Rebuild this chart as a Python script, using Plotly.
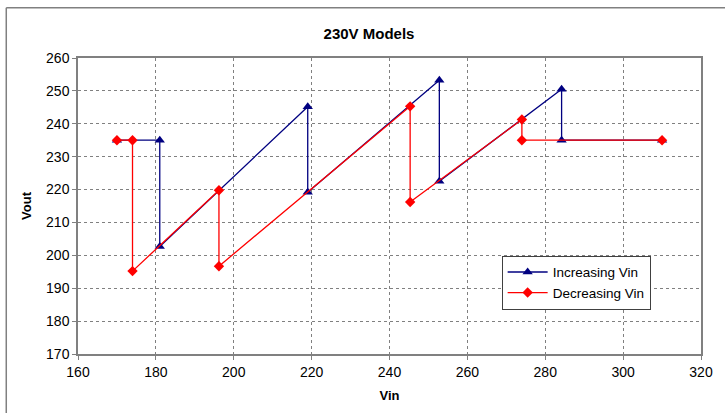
import plotly.graph_objects as go

# Increasing Vin series
inc_vin = [170, 181, 181, 219, 219, 252.8, 252.8, 284.2, 284.2, 310]
inc_vout = [235, 235, 202.7, 245.2, 219.2, 253.2, 222.5, 250.5, 235, 235]

# Decreasing Vin series
dec_vin = [310, 274, 274, 245.3, 245.3, 196.2, 196.2, 174, 174, 170]
dec_vout = [235, 235, 241.3, 216.2, 245.3, 196.7, 219.8, 195.2, 235, 235]

x_ticks = [160, 180, 200, 220, 240, 260, 280, 300, 320]
y_ticks = [170, 180, 190, 200, 210, 220, 230, 240, 250, 260]

FONT = "Liberation Sans, Arial, sans-serif"

fig = go.Figure()
fig.add_trace(go.Scatter(
    x=inc_vin, y=inc_vout, mode="lines+markers", name="Increasing Vin",
    line=dict(color="#000080", width=1.3),
    marker=dict(symbol="triangle-up", size=9, color="#000080"),
))
fig.add_trace(go.Scatter(
    x=dec_vin, y=dec_vout, mode="lines+markers", name="Decreasing Vin",
    line=dict(color="#FF0000", width=1.3),
    marker=dict(symbol="diamond", size=8, color="#FF0000"),
))

axis_common = dict(
    showline=True, linecolor="#808080", linewidth=1.5, mirror=True,
    showgrid=True, gridcolor="#808080", gridwidth=1, griddash="dot",
    ticks="outside", ticklen=4, tickcolor="#808080", tickwidth=1,
    tickfont=dict(family=FONT, size=14, color="black"),
    zeroline=False,
)

fig.update_layout(
    width=725, height=413,
    margin=dict(l=78, r=13, t=58, b=55),
    paper_bgcolor="white", plot_bgcolor="white",
    title=dict(text="<b>230V Models</b>", x=369 / 725, xanchor="center",
               y=1 - 34 / 413, yanchor="middle",
               font=dict(family=FONT, size=15, color="black")),
    xaxis=dict(range=[160, 320], tickvals=x_ticks,
               title=dict(text="<b>Vin</b>", standoff=12,
                          font=dict(family=FONT, size=13, color="black")),
               **axis_common),
    yaxis=dict(range=[170, 260], tickvals=y_ticks,
               title=dict(text="<b>Vout</b>", standoff=12,
                          font=dict(family=FONT, size=13, color="black")),
               **axis_common),
    legend=dict(x=0.68, y=0.332, xanchor="left", yanchor="top",
                bordercolor="#404040", borderwidth=1, bgcolor="white",
                font=dict(family=FONT, size=13.5, color="black"),
                tracegroupgap=0, itemwidth=40),
    showlegend=True,
    shapes=[
        dict(type="line", xref="paper", yref="paper",
             x0=-73 / 634, x1=1.1, y0=1 + 51 / 300, y1=1 + 51 / 300,
             line=dict(color="#808080", width=1.5)),
        dict(type="line", xref="paper", yref="paper",
             x0=-73 / 634, x1=-73 / 634, y0=1 + 51 / 300, y1=-0.2,
             line=dict(color="#808080", width=1.5)),
    ],
)

fig.write_html("out.html", config={"displayModeBar": False},
               post_script="document.body.style.margin='0';")
